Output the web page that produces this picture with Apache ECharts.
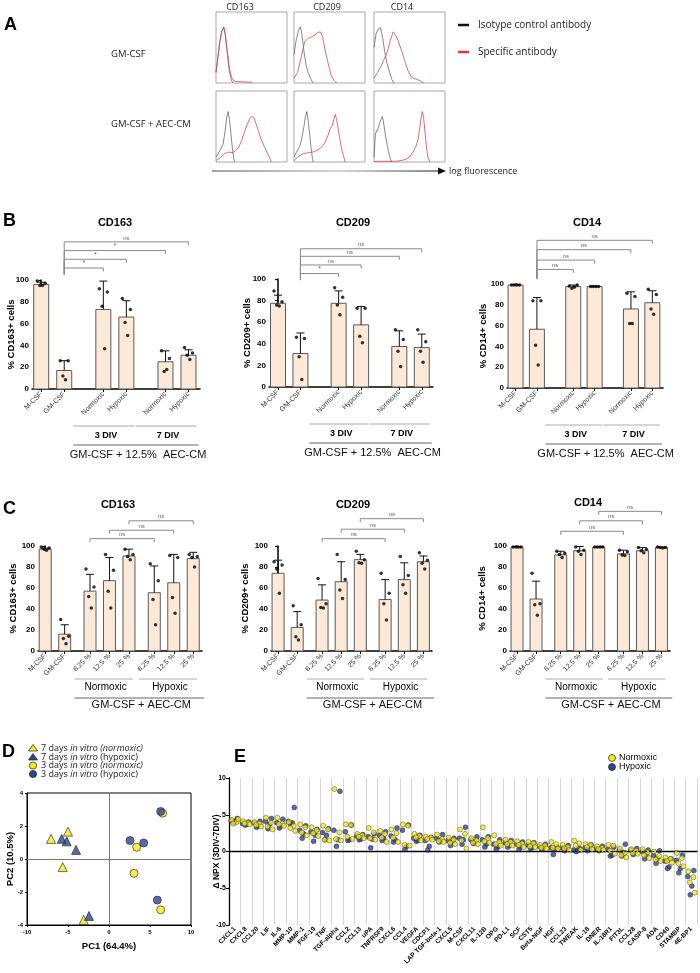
<!DOCTYPE html>
<html><head><meta charset="utf-8">
<script src="https://cdn.jsdelivr.net/npm/echarts@6/dist/echarts.min.js"></script>
<style>html,body{margin:0;padding:0;background:#fff}#c{width:700px;height:973px}</style>
</head><body><div id="c"></div>
<script>
// ---------------- DATA ----------------
// Panel A: flow-cytometry histograms, [log fluorescence %, count %]
const hist_CD163_GM_iso = [[0,15],[2,30],[5,55],[8,72],[11,78],[13,68],[16,40],[19,15],[22,3],[24,0]];
const hist_CD163_GM_spec = [[0,15],[2,31],[5,56],[8,73],[11,79],[13,70],[16,45],[19,20],[22,8],[25,3],[30,2],[40,1.5],[50,1],[52,0]];
const hist_CD209_GM_iso = [[0,40],[3,60],[6,73],[9,79],[11,70],[14,45],[17,25],[20,15],[24,5],[27,0]];
const hist_CD209_GM_spec = [[0,7],[5,15],[10,36],[15,58],[20,63],[25,65],[30,68],[33,71],[37,72],[40,66],[44,45],[48,28],[52,12],[56,4],[60,0]];
const hist_CD14_GM_iso = [[0,50],[3,70],[6,76],[9,78],[12,65],[15,45],[18,29],[22,15],[25,5],[28,0]];
const hist_CD14_GM_spec = [[0,7],[5,15],[10,24],[15,35],[19,45],[23,60],[27,72],[30,68],[34,60],[39,45],[44,29],[48,17],[53,8],[58,6],[63,4],[67,2],[70,0]];
const hist_CD163_AEC_iso = [[0,7],[5,15],[10,25],[13,45],[15,62],[17,71],[19,60],[21,40],[23,20],[25,5],[26,0]];
const hist_CD163_AEC_spec = [[0,2],[6,6],[12,12],[18,14],[24,13],[28,17],[32,21],[36,30],[40,42],[44,53],[47,60],[50,64],[53,63],[56,55],[60,43],[64,31],[68,22],[72,13],[76,5],[78,0]];
const hist_CD209_AEC_iso = [[0,7],[4,15],[8,22],[11,33],[14,50],[16,63],[18,71],[20,58],[22,40],[24,20],[26,5],[27,0]];
const hist_CD209_AEC_spec = [[0,2],[5,7],[10,10],[14,12],[20,13],[26,14],[30,15],[35,18],[40,22],[44,28],[48,38],[51,47],[54,52],[56,60],[58,67],[60,60],[62,48],[65,30],[68,14],[71,4],[72,0]];
const hist_CD14_AEC_iso = [[0,7],[2,40],[4,44],[6,48],[8,55],[10,60],[12,64],[14,52],[16,38],[18,27],[20,17],[22,8],[24,2],[25,0]];
const hist_CD14_AEC_spec = [[0,1],[10,1],[20,1],[30,1],[38,2],[45,4],[50,7],[55,14],[59,22],[62,31],[64,45],[66,60],[68,71],[70,62],[72,40],[74,20],[76,7],[79,0]];
const A_markers = ['CD163','CD209','CD14'];
const A_rows = ['GM-CSF','GM-CSF + AEC-CM'];

// Panel B
const B_cats = ['M-CSF','GM-CSF','Normoxic','Hypoxic','Normoxic','Hypoxic'];
const B_CD163_mean = [96, 17, 73, 66, 25, 31];
const B_CD163_err = [98, 26, 99, 81, 35, 36];
const B_CD163_pts = [[99,97,95,95],[26,26,12,8.5],[92,89,76,37],[83,73,61,49],[35,28,16,18],[38,33,31,27]];
const B_CD209_mean = [77.5, 31, 77.5, 57.5, 37.5, 36.5];
const B_CD209_err = [85, 50, 89, 74.5, 52, 49];
const B_CD209_pts = [[89,79,76,75],[46,45,28,7],[92,83,76,67],[73,73,47,41],[53,44,33,19],[53,42,33,23]];
const B_CD14_mean = [99, 56.5, 97.5, 97.5, 76, 82];
const B_CD14_err = [99.5, 87, 99, 98, 92.5, 93.5];
const B_CD14_pts = [[99,99,99,99],[84,84,41,22],[98,99,96,97],[97.5,97.5,97.5,97.5],[91,88,62,62],[95,90,76,71]];
const B_sig_CD163 = ['*','*','*','ns'];
const B_sig_CD209 = ['*','ns','ns','ns'];
const B_sig_CD14 = ['ns','ns','ns','ns'];

// Panel C
const C_cats = ['M-CSF','GM-CSF','6.25 %','12.5 %','25 %','6.25 %','12.5 %','25 %'];
const C_CD163_mean = [97, 16, 57, 67, 90.5, 55.5, 65, 88];
const C_CD163_err = [98, 25, 73, 89, 97, 81, 92, 94];
const C_CD163_pts = [[99,98,97,96],[30,14,12,7],[78,61,52,41],[92,77,57,41],[97,92,90,87],[83,67,49,25],[91,89,51,36],[92,90,89,80]];
const C_CD209_mean = [74, 22.5, 48.5, 66, 87, 49, 68, 85];
const C_CD209_err = [86.5, 37.5, 63, 85, 92, 68, 84, 90.5];
const C_CD209_pts = [[85,82,78,55],[43,25,13.5,10.5],[69,45,41.5,41],[92,68,58,50],[95,87,84,83.5],[74,55,45,29.5],[90,72,63,55],[93.5,86.5,83.5,78]];
const C_CD14_mean = [99, 49.5, 91.5, 95.5, 99, 92.5, 95.5, 98.5];
const C_CD14_err = [99.5, 66.5, 95, 99.5, 99.5, 96, 98.5, 99];
const C_CD14_pts = [[99,99,99,99],[74,45,44,34],[95,93,92,89],[99,96,95,92],[99,99,99,99],[96,94.5,91.5,91],[98.5,97,95.5,93.5],[99,98.5,98.5,98]];
const C_sig = ['ns','ns','ns'];

// Panel D: PCA scores [PC1, PC2]
const D_7d_norm = [[-7.07,1.22],[-5.0,1.66],[-5.65,-0.49],[-3.09,-3.69]];
const D_7d_hyp = [[-5.77,1.22],[-5.16,1.07],[-4.02,0.55],[-2.44,-3.45]];
const D_3d_norm = [[6.54,2.78],[3.37,0.71],[3.05,-0.87],[6.30,-3.08]];
const D_3d_hyp = [[6.30,2.88],[2.56,1.12],[4.23,0.97],[5.89,-2.49]];

// Panel E: delta NPX (3DIV-7DIV)
const E_cats = ['CXCL1','CXCL8','CCL20','LIF','IL-6','MMP-10','MMP-1','FGF-19','TNF','TGF-alpha','CCL2','CCL13','uPA','TNFRSF9','CXCL6','CCL4','VEGFA','CDCP1','LAP TGF-beta-1','CXCL5','M-CSF','CXCL11','IL-12B','OPG','PD-L1','SCF','CST5','Beta-NGF','HGF','CCL23','TWEAK','IL-18','DNER','IL-18R1','FlT3L','CCL28','CASP-8','ADA','CD40','STAMBP','4E-BP1'];
const E_norm = [
[4.3,4.0,3.8,4.4],[4.1,3.9,3.8,3.7],[4.0,3.8,3.6,3.4],[4.6,3.9,3.4,3.0],[4.6,3.8,3.7,3.5],
[4.0,3.5,3.2,2.8],[3.7,3.3,2.6,2.2],[3.3,2.9,2.5,2.1],[3.5,3.0,1.6,1.5],[8.5,2.6,1.7,1.5],
[3.7,3.6,2.0,1.7],[2.4,2.2,2.0,1.8],[3.2,2.6,1.8,1.6],[2.8,2.4,1.9,1.3],[3.0,2.5,1.9,1.3],
[3.7,3.5,0.9,0.8],[2.4,2.1,1.9,1.5],[2.0,1.9,1.7,1.6],[2.3,1.7,1.4,1.3],[1.9,1.6,1.2,1.0],
[3.0,2.4,1.5,0.4],[1.8,1.5,1.2,1.0],[3.3,1.8,1.4,1.2],[2.2,1.3,1.0,0.8],[1.6,1.3,1.0,0.8],
[1.4,1.1,0.9,0.6],[1.3,1.1,0.7,0.6],[0.9,0.8,0.5,0.4],[1.3,1.0,0.5,0.4],[0.9,0.6,0.4,0.2],
[1.5,1.1,0.8,0.2],[1.0,0.9,0.6,0.3],[0.7,0.5,0.3,0.2],[0.9,0.8,0.1,-0.3],[0.4,-0.2,-0.5,-0.8],
[0.3,0.1,-0.2,-0.3],[0.3,-0.1,-0.5,-0.9],[0.0,-0.6,-1.1,-1.3],[-0.8,-1.0,-1.3,-1.5],[-0.2,-0.9,-1.6,-2.0],
[-2.7,-3.5,-4.2,-5.6]];
const E_hyp = [
[4.5,4.2,4.1,3.9],[4.0,3.8,3.7,3.6],[4.1,3.9,3.5,3.3],[4.5,4.1,3.7,3.1],[4.4,3.9,3.5,3.2],
[6.0,4.1,3.9,3.7],[3.5,2.9,2.4,1.8],[3.0,2.7,2.2,1.4],[3.1,2.6,2.2,1.6],[8.2,2.9,1.6,0.7],
[3.6,2.7,1.6,1.5],[2.3,2.1,1.7,1.6],[2.4,2.0,1.7,0.5],[2.7,2.2,1.8,1.5],[3.2,2.1,1.6,1.3],
[3.6,2.9,0.7,0.3],[2.2,1.8,1.5,1.4],[1.9,1.5,0.7,0.2],[2.3,1.8,1.5,1.3],[1.8,1.5,1.3,0.8],
[3.3,1.8,1.6,1.0],[2.0,1.6,1.3,1.1],[2.0,1.6,1.0,0.6],[1.6,1.0,0.6,0.3],[1.5,1.2,0.8,0.6],
[1.3,1.0,0.6,0.3],[1.2,0.9,0.5,0.4],[1.0,0.7,0.5,0.3],[0.6,0.5,0.3,-0.4],[0.8,0.5,0.3,0.1],
[0.4,0.2,0.1,0.0],[0.9,0.5,0.3,0.1],[0.7,0.4,0.2,0.1],[0.6,0.3,-0.5,-0.6],[1.0,0.2,-0.1,-0.6],
[0.4,0.2,-0.1,-0.4],[0.2,0.0,-0.4,-1.0],[0.1,-0.5,-1.0,-1.6],[-1.0,-1.3,-2.1,-2.3],[-0.5,-1.2,-2.3,-2.9],
[-2.6,-3.4,-4.7,-5.9]];

// ---------------- BUILD ----------------
const FONT = '"Liberation Sans", Arial, sans-serif';
const FONT2 = '"Open Sans", "Noto Sans", sans-serif';
const YEL = '#f7e81a', BLU = '#2b4592';
const grids = [], xAxes = [], yAxes = [], series = [], graphics = [];
function addGrid(g, x, y){ grids.push(g); const i = grids.length-1; x.gridIndex = i; y.gridIndex = i; xAxes.push(x); yAxes.push(y); return i; }
function txt(x, y, text, o){ o = o||{}; graphics.push({type:'text', x:x, y:y, rotation:o.rot||0, silent:true, style:Object.assign({text:text, fill:o.color||'#000', font:(o.style||'normal')+' '+(o.weight||'normal')+' '+(o.size||10)+'px '+(o.family||FONT), textAlign:o.align||'left', textVerticalAlign:'middle', align:o.align||'left', verticalAlign:'middle'}, o.extra||{})}); }
const hiddenAxis = () => ({type:'value', min:0, max:100, show:true, axisLine:{show:false}, axisTick:{show:false}, axisLabel:{show:false}, splitLine:{show:false}});

// ---- Panel A ----
const histSets = [[hist_CD163_GM_iso,hist_CD163_GM_spec],[hist_CD209_GM_iso,hist_CD209_GM_spec],[hist_CD14_GM_iso,hist_CD14_GM_spec],
                  [hist_CD163_AEC_iso,hist_CD163_AEC_spec],[hist_CD209_AEC_iso,hist_CD209_AEC_spec],[hist_CD14_AEC_iso,hist_CD14_AEC_spec]];
const boxLeft = [216, 294, 374], boxTop = [12, 91];
histSets.forEach((hs, k) => {
  const r = Math.floor(k/3), c = k%3;
  const gi = addGrid({left:boxLeft[c], top:boxTop[r], width:71, height:71, show:true, borderColor:'#a8a8a8', borderWidth:1},
    hiddenAxis(), hiddenAxis());
  series.push({type:'line', xAxisIndex:gi, yAxisIndex:gi, data:hs[0], symbol:'none', silent:true, lineStyle:{color:'#555', width:0.7}, z:3});
  series.push({type:'line', xAxisIndex:gi, yAxisIndex:gi, data:hs[1], symbol:'none', silent:true, lineStyle:{color:'#d8474a', width:0.8}, z:4});
});
txt(4, 25, 'A', {size:18, weight:'bold'});
[240, 327, 402].forEach((x,i) => txt(x, 7, A_markers[i], {size:9, align:'center', family:FONT2, color:'#222'}));
txt(111, 54, A_rows[0], {size:9.5, family:FONT2, color:'#222'});
txt(111, 124, A_rows[1], {size:9.5, family:FONT2, color:'#222'});
graphics.push({type:'line', shape:{x1:458, y1:25, x2:469, y2:25}, style:{stroke:'#111', lineWidth:2.5}});
graphics.push({type:'line', shape:{x1:458, y1:52, x2:469, y2:52}, style:{stroke:'#d43c3f', lineWidth:2.5}});
txt(478, 25, 'Isotype control antibody', {size:10, family:FONT2, color:'#222'});
txt(478, 52, 'Specific antibody', {size:10, family:FONT2, color:'#222'});
graphics.push({type:'line', shape:{x1:212, y1:171, x2:440, y2:171}, style:{stroke:new echarts.graphic.LinearGradient(0,0,1,0,[{offset:0,color:'#444'},{offset:0.55,color:'#aaa'},{offset:1,color:'#111'}]), lineWidth:1.2}});
graphics.push({type:'polygon', shape:{points:[[438,167.5],[446,171],[438,174.5]]}, style:{fill:'#111'}});
txt(449, 171, 'log fluorescence', {size:9, family:FONT2, color:'#222'});

// ---- bar panels (B, C) ----
function computePositions(sizes, extra){ const p=[]; let x=0; sizes.forEach((s,gi)=>{ if(gi>0) x+=extra; for(let k=0;k<s;k++){ p.push(Math.round(x*100)/100); x+=1; } }); return p; }
const DOTJIT = [-4, 4, -1.3, 1.3];
function barPanel(o){
  const P = o.pos;
  const gi = addGrid({left:o.left, top:o.top, width:o.width, height:o.height},
    {type:'value', min:o.xmin, max:o.xmax, splitLine:{show:false},
     axisLine:{show:true, onZero:false, lineStyle:{color:'#000', width:1.5}},
     axisTick:{show:true, customValues:P, length:3, lineStyle:{color:'#000', width:1}},
     axisLabel:{show:true, customValues:P, rotate:45, fontSize:7, color:'#333', fontFamily:FONT, margin:4,
       formatter:function(v){ let bi=0,bd=1e9; P.forEach((p,i)=>{const d=Math.abs(p-v); if(d<bd){bd=d;bi=i;}}); return o.cats[bi]; }}},
    {type:'value', min:0, max:100, interval:20, splitLine:{show:false},
     axisLine:{show:true, lineStyle:{color:'#000', width:1.5}},
     axisTick:{show:true, length:3, lineStyle:{color:'#000', width:1.2}},
     axisLabel:{fontSize:8, fontWeight:'bold', color:'#000', fontFamily:FONT, margin:3},
     name:o.yName, nameLocation:'middle', nameGap:o.nameGap, nameRotate:90, nameMoveOverlap:false,
     nameTextStyle:{fontSize:9.5, fontWeight:'bold', color:'#000', fontFamily:FONT}});
  const bw = o.barWidth;
  series.push({type:'custom', xAxisIndex:gi, yAxisIndex:gi, silent:true, clip:false, z:2,
    data:P.map((p,i)=>[p, o.mean[i], o.err[i]]), encode:{x:0, y:[1,2]},
    renderItem:function(params, api){
      const x=api.value(0), m=api.value(1), e=api.value(2);
      const b=api.coord([x,0]), t=api.coord([x,m]), et=api.coord([x,e]);
      return {type:'group', children:[
        {type:'rect', shape:{x:b[0]-bw/2, y:t[1], width:bw, height:b[1]-t[1]}, style:{fill:'#fce9d7', stroke:'#5a5a5a', lineWidth:1}},
        {type:'line', shape:{x1:t[0], y1:t[1], x2:et[0], y2:et[1]}, style:{stroke:'#111', lineWidth:1}},
        {type:'line', shape:{x1:et[0]-4, y1:et[1], x2:et[0]+4, y2:et[1]}, style:{stroke:'#111', lineWidth:1}}
      ]};
    }});
  const dots = [];
  P.forEach((p,i)=>o.pts[i].forEach((v,k)=>dots.push({value:[p,v], symbolOffset:[DOTJIT[k%4],0]})));
  series.push({type:'scatter', xAxisIndex:gi, yAxisIndex:gi, data:dots, symbol:'circle', symbolSize:3.5, itemStyle:{color:'#000'}, silent:true, z:5});
  series.push({type:'custom', xAxisIndex:gi, yAxisIndex:gi, silent:true, clip:false, z:6,
    data:[[0,0]], encode:{x:0, y:1},
    renderItem:function(params, api){
      const ch=[]; const X=v=>api.coord([v,0])[0], Y=v=>api.coord([0,v])[1]; const y0=Y(0);
      o.brackets.forEach(b=>{
        const x1=X(P[b.from]), x2=X(P[b.to]), yl=Y(b.level);
        const yb = (o.leftBottom!=null) ? Y(o.leftBottom) : yl+3.5;
        ch.push({type:'polyline', shape:{points:[[x1,yb],[x1,yl],[x2,yl],[x2,yl+3.5]]}, style:{stroke:'#8a8a8a', lineWidth:1, fill:'none'}});
        ch.push({type:'text', x:(x1+x2)/2, y:yl-1, style:{text:b.label, fill:'#666', font:'normal '+(b.label==='*'?7:6)+'px '+FONT, textAlign:'center', textVerticalAlign:'bottom', align:'center', verticalAlign:'bottom'}});
      });
      let gl=null, gr=null;
      o.groups.forEach(g=>{
        const l=X(P[g.from]-o.gLeft), r=X(P[g.to]+o.gRight);
        if(gl===null) gl=l; gr=r;
        ch.push({type:'line', shape:{x1:l, y1:y0+o.off[0], x2:r, y2:y0+o.off[0]}, style:{stroke:'#aaa', lineWidth:1}});
        ch.push({type:'text', x:(l+r)/2+2, y:y0+o.off[1], style:{text:g.label, fill:'#000', font:o.gFont, textAlign:'center', textVerticalAlign:'middle', align:'center', verticalAlign:'middle'}});
      });
      gr += o.longExtra;
      ch.push({type:'line', shape:{x1:gl, y1:y0+o.off[2], x2:gr, y2:y0+o.off[2]}, style:{stroke:'#666', lineWidth:1}});
      ch.push({type:'text', x:(gl+gr)/2+2, y:y0+o.off[3], style:{text:o.longLabel, fill:'#111', font:'normal 11px '+FONT, textAlign:'center', textVerticalAlign:'middle', align:'center', verticalAlign:'middle'}});
      return {type:'group', children:ch};
    }});
  txt(o.titleX, o.titleY, o.title, {size:11, weight:'bold', align:'center'});
}
const B_pos = computePositions([2,2,2], 0.7);
const C_pos = computePositions([2,3,3], 0.3);
function Bbr(levels, sig){ return levels.map((lv,i)=>({from:1, to:2+i, level:lv, label:sig[i]})); }
function Cbr(levels, sig){ return levels.map((lv,i)=>({from:2+i, to:5+i, level:lv, label:sig[i]})); }
const Bgroups = [{from:2,to:3,label:'3 DIV'},{from:4,to:5,label:'7 DIV'}];
const Cgroups = [{from:2,to:4,label:'Normoxic'},{from:5,to:7,label:'Hypoxic'}];
const Bcommon = {pos:B_pos, cats:B_cats, xmin:-0.4, xmax:6.9, barWidth:15, groups:Bgroups, gLeft:1.3, gRight:0.35, off:[37,47,56,66], gFont:'bold 9px '+FONT, longLabel:'GM-CSF + 12.5%  AEC-CM', longExtra:2};
barPanel(Object.assign({}, Bcommon, {left:32, top:280, width:168, height:109, title:'CD163', titleX:115, titleY:223, yName:'% CD163+ cells', nameGap:16,
  mean:B_CD163_mean, err:B_CD163_err, pts:B_CD163_pts, brackets:Bbr([111,119,127,135], B_sig_CD163), leftBottom:105}));
barPanel(Object.assign({}, Bcommon, {left:269, top:279, width:164, height:108, title:'CD209', titleX:353, titleY:223, yName:'% CD209+ cells', nameGap:17,
  mean:B_CD209_mean, err:B_CD209_err, pts:B_CD209_pts, brackets:Bbr([105,113,121,128], B_sig_CD209), leftBottom:99}));
barPanel(Object.assign({}, Bcommon, {left:507, top:284, width:156, height:104, title:'CD14', titleX:587, titleY:223, yName:'% CD14+ cells', nameGap:19,
  mean:B_CD14_mean, err:B_CD14_err, pts:B_CD14_pts, brackets:Bbr([114,123,133,142], B_sig_CD14), leftBottom:105}));
const Ccommon = {pos:C_pos, cats:C_cats, xmin:-0.37, xmax:8.05, barWidth:12, groups:Cgroups, gLeft:0.8, gRight:0.2, off:[28,36,47,54], gFont:'normal 10px '+FONT, longLabel:'GM-CSF + AEC-CM', longExtra:7};
barPanel(Object.assign({}, Ccommon, {left:38, top:546, width:164, height:105, title:'CD163', titleX:118, titleY:505, yName:'% CD163+ cells', nameGap:20,
  mean:C_CD163_mean, err:C_CD163_err, pts:C_CD163_pts, brackets:Cbr([107,115,124], C_sig)}));
barPanel(Object.assign({}, Ccommon, {left:271, top:546, width:161, height:105, title:'CD209', titleX:353, titleY:505, yName:'% CD209+ cells', nameGap:21,
  mean:C_CD209_mean, err:C_CD209_err, pts:C_CD209_pts, brackets:Cbr([107,116,126], C_sig)}));
barPanel(Object.assign({}, Ccommon, {left:510, top:546, width:160, height:105, title:'CD14', titleX:588, titleY:503, yName:'% CD14+ cells', nameGap:23,
  mean:C_CD14_mean, err:C_CD14_err, pts:C_CD14_pts, brackets:Cbr([114,124,133], C_sig)}));
txt(3, 221, 'B', {size:18, weight:'bold'});
txt(3, 509, 'C', {size:18, weight:'bold'});

// ---- Panel D ----
const gD = addGrid({left:27, top:793, width:164, height:132, show:true, borderColor:'#000', borderWidth:1},
  {type:'value', min:-10, max:10, interval:5, splitLine:{show:false}, axisLine:{onZero:false, lineStyle:{color:'#000'}},
   axisTick:{length:2, lineStyle:{color:'#000'}}, axisLabel:{fontSize:6, fontWeight:'bold', color:'#000', fontFamily:FONT, margin:4},
   name:'PC1 (64.4%)', nameLocation:'middle', nameGap:16, nameMoveOverlap:false, nameTextStyle:{fontSize:9.5, fontWeight:'bold', color:'#000', fontFamily:FONT}},
  {type:'value', min:-4, max:4, interval:2, splitLine:{show:false}, axisLine:{onZero:false, lineStyle:{color:'#000'}},
   axisTick:{length:2, lineStyle:{color:'#000'}}, axisLabel:{fontSize:6, fontWeight:'bold', color:'#000', fontFamily:FONT, margin:4},
   name:'PC2 (10.5%)', nameLocation:'middle', nameGap:12, nameRotate:90, nameMoveOverlap:false, nameTextStyle:{fontSize:9.5, fontWeight:'bold', color:'#000', fontFamily:FONT}});
const dStyle = (c)=>({color:c, borderColor:'#222', borderWidth:0.8});
series.push({type:'scatter', xAxisIndex:gD, yAxisIndex:gD, data:D_7d_norm, symbol:'triangle', symbolSize:9, itemStyle:dStyle(YEL), z:3,
  markLine:{silent:true, symbol:'none', label:{show:false}, lineStyle:{color:'#777', width:1, type:'solid'}, data:[{xAxis:0},{yAxis:0}]}});
series.push({type:'scatter', xAxisIndex:gD, yAxisIndex:gD, data:D_7d_hyp, symbol:'triangle', symbolSize:9, itemStyle:dStyle(BLU), z:3});
series.push({type:'scatter', xAxisIndex:gD, yAxisIndex:gD, data:D_3d_norm, symbol:'circle', symbolSize:8, itemStyle:dStyle(YEL), z:3});
series.push({type:'scatter', xAxisIndex:gD, yAxisIndex:gD, data:D_3d_hyp, symbol:'circle', symbolSize:8, itemStyle:dStyle(BLU), z:3});
txt(2, 752, 'D', {size:18, weight:'bold'});
const legY = [748, 757, 765.5, 774];
const legTxt = ['7 days {i|in vitro (normoxic)}','7 days {i|in vitro} (hypoxic)','3 days {i|in vitro (normoxic)}','3 days {i|in vitro} (hypoxic)'];
[[YEL,'t'],[BLU,'t'],[YEL,'c'],[BLU,'c']].forEach((m,i)=>{
  const y = legY[i];
  if(m[1]==='t') graphics.push({type:'polygon', shape:{points:[[33,y-3.5],[37.5,y+3],[28.5,y+3]]}, style:{fill:m[0], stroke:'#222', lineWidth:0.7}});
  else graphics.push({type:'circle', shape:{cx:33, cy:y, r:3.6}, style:{fill:m[0], stroke:'#222', lineWidth:0.7}});
  graphics.push({type:'text', x:41, y:y, silent:true, style:{text:legTxt[i], fill:'#222', font:'normal 9px '+FONT2, textVerticalAlign:'middle', verticalAlign:'middle',
    rich:{i:{fontStyle:'italic', fontSize:9, fontFamily:FONT2, fill:'#222'}}}});
});

// ---- Panel E ----
const gE = addGrid({left:229, top:778, width:468, height:147},
  {type:'category', data:E_cats, axisLine:{lineStyle:{color:'#000', width:1.3}},
   axisTick:{alignWithLabel:true, interval:0, length:3, lineStyle:{color:'#000'}},
   axisLabel:{interval:0, rotate:45, fontSize:6.5, fontWeight:'bold', color:'#000', fontFamily:FONT, margin:3},
   splitLine:{show:true, interval:0, lineStyle:{color:'#d6d6d6', width:1}}},
  {type:'value', min:-10, max:10, interval:5, splitLine:{show:false}, axisLine:{show:true, onZero:false, lineStyle:{color:'#000', width:1.3}},
   axisTick:{show:true, length:3, lineStyle:{color:'#000'}}, axisLabel:{fontSize:7, fontWeight:'bold', color:'#000', fontFamily:FONT, margin:3},
   name:'Δ NPX (3DIV-7DIV)', nameLocation:'middle', nameGap:8, nameRotate:90, nameMoveOverlap:false, nameTextStyle:{fontSize:8.5, fontWeight:'bold', color:'#000', fontFamily:FONT}});
const JN = [-3, 2, -1.5, 3.5], JH = [2.5, -3.5, 0.5, -1];
const eN = [], eH = [];
E_cats.forEach((c,i)=>{ E_norm[i].forEach((v,k)=>eN.push({value:[i,v], symbolOffset:[JN[k],0]})); E_hyp[i].forEach((v,k)=>eH.push({value:[i,v], symbolOffset:[JH[k],0]})); });
series.push({type:'scatter', xAxisIndex:gE, yAxisIndex:gE, data:eH, symbol:'circle', symbolSize:5, itemStyle:{color:BLU, borderColor:'#222', borderWidth:0.5}, z:3,
  markLine:{silent:true, symbol:'none', label:{show:false}, lineStyle:{color:'#000', width:1, type:[1.5,2]}, data:[{yAxis:0}]}});
series.push({type:'scatter', xAxisIndex:gE, yAxisIndex:gE, data:eN, symbol:'circle', symbolSize:5, itemStyle:{color:YEL, borderColor:'#222', borderWidth:0.5}, z:4});
txt(234, 757, 'E', {size:18, weight:'bold'});
graphics.push({type:'circle', shape:{cx:612, cy:758, r:3.5}, style:{fill:YEL, stroke:'#222', lineWidth:0.7}});
graphics.push({type:'circle', shape:{cx:612, cy:767, r:3.5}, style:{fill:BLU, stroke:'#222', lineWidth:0.7}});
txt(619, 758, 'Normoxic', {size:9});
txt(619, 767, 'Hypoxic', {size:9});

const chart = echarts.init(document.getElementById('c'), null, {renderer:'canvas'});
chart.setOption({animation:false, backgroundColor:'#fff', grid:grids, xAxis:xAxes, yAxis:yAxes, series:series, graphic:{elements:graphics}});
</script></body></html>
